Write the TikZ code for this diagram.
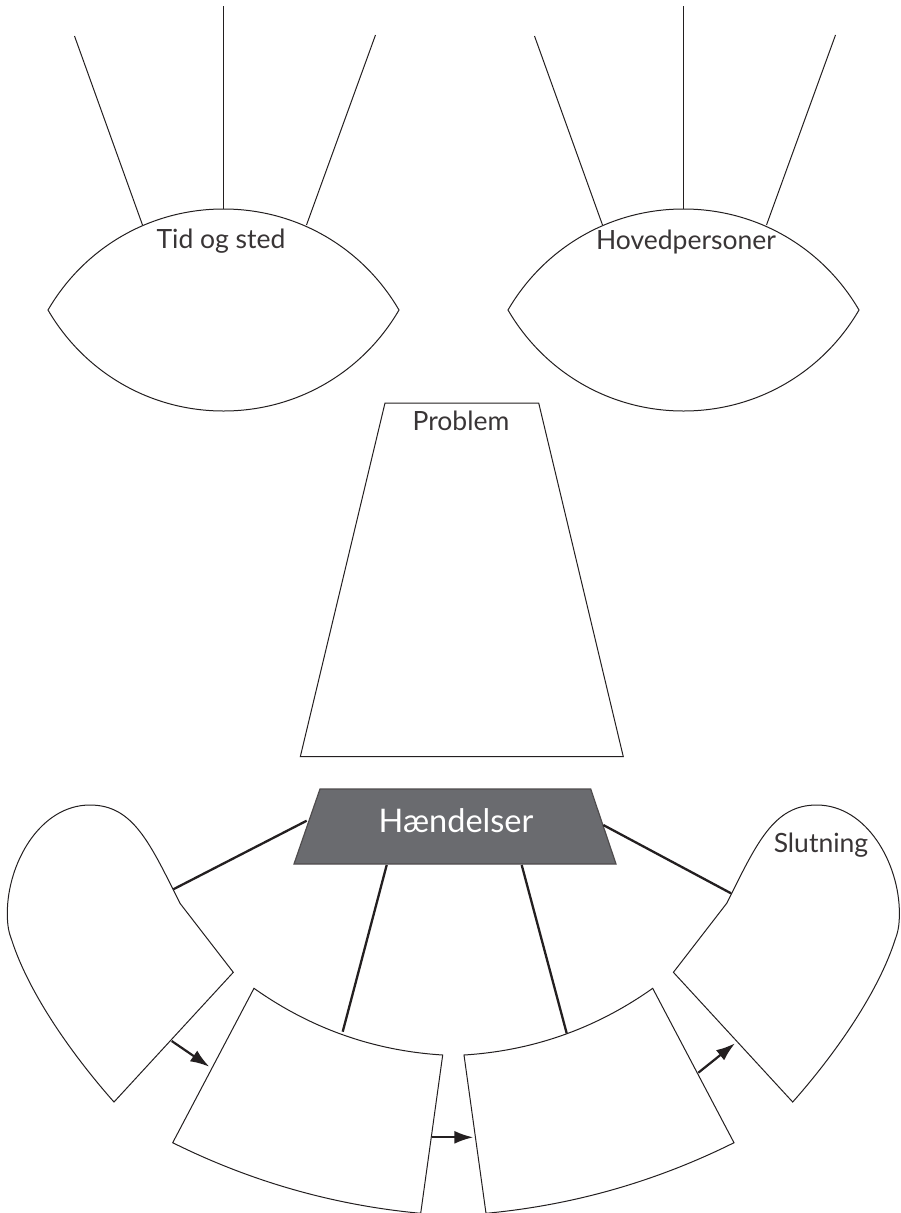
\documentclass[tikz,border=0pt]{standalone}
\usepackage{fontspec}
\setmainfont{Lato}
\usetikzlibrary{arrows.meta}
\definecolor{boxgray}{HTML}{6A6B6F}
\definecolor{ink}{HTML}{231F20}
\begin{document}
\begin{tikzpicture}[x=1pt,y=-1pt,
  outline/.style={draw=ink, line width=1pt, fill=white, line join=miter},
  thinline/.style={draw=ink, line width=1pt},
  link/.style={draw=ink, line width=2.3pt},
  flow/.style={draw=ink, line width=2.2pt, -{Latex[length=19pt,width=13pt]}},
  lbl/.style={font=\fontsize{26.5}{30}\selectfont, text=ink!90, inner sep=0pt},
  biglbl/.style={font=\fontsize{32.5}{36}\selectfont, text=white, inner sep=0pt},
]
\useasboundingbox (0,0) rectangle (901,1213);

% ---- two lenses with their three strokes ----
\foreach \n/\cx in {tid/223.5, hov/683.5}{
  \begin{scope}[shift={(\cx,310)}]
    \draw[outline] (-175.5,0) .. controls (-139.1,-62.5) and (-73.2,-101) .. (0,-101)
      .. controls (73.2,-101) and (139.1,-62.5) .. (175.5,0)
      .. controls (139.1,62.5) and (73.2,101) .. (0,101)
      .. controls (-73.2,101) and (-139.1,62.5) .. (-175.5,0) -- cycle;
    \coordinate (\n-la) at (-149,-274);
    \coordinate (\n-lb) at (-81,-85);
    \coordinate (\n-ma) at (0,-304);
    \coordinate (\n-mb) at (0,-101);
    \coordinate (\n-ra) at (152,-275);
    \coordinate (\n-rb) at (83,-85);
  \end{scope}
  \draw[thinline] (\n-la) -- (\n-lb);
  \draw[thinline] (\n-ma) -- (\n-mb);
  \draw[thinline] (\n-ra) -- (\n-rb);
}
\node[lbl] (tidtxt) at (221,241) {Tid og sted};
\node[lbl] (hovtxt) at (686,242) {Hovedpersoner};

% ---- problem ----
\draw[outline] (385,403) -- (538.7,403) -- (623.3,756.7) -- (300.3,756.7) -- cycle;
\node[lbl] (problem) at (461,421) {Problem};

% ---- events box ----
\draw[fill=boxgray, draw=ink!80, line width=1.2pt, line join=miter]
  (320,789) -- (590.7,789) -- (616,864) -- (294,864) -- cycle;
\node[biglbl] (haend) at (456,821) {Hændelser};

% ---- left mitten (start) ----
\draw[outline] (233.3,972.3) -- (180,903.3) .. controls (150,843.3) and (133.3,805) .. (90,805)
  .. controls (40,805) and (7.3,863.3) .. (7.3,913.3)
  .. controls (7.3,926) and (9,933) .. (11.7,940)
  .. controls (30,996.7) and (76.7,1060) .. (114,1102) -- cycle;

% ---- right mitten (Slutning) ----
\draw[outline] (673.4,972.3) -- (726.7,903.3) .. controls (756.7,843.3) and (773.4,805) .. (816.7,805)
  .. controls (866.7,805) and (899.4,863.3) .. (899.4,913.3)
  .. controls (899.4,926) and (897.7,933) .. (895,940)
  .. controls (876.7,996.7) and (830,1060) .. (792.7,1102) -- cycle;
\node[lbl] (slut) at (821,845) {Slutning};

% ---- two cards ----
\draw[outline] (254,988.3) .. controls (310.6,1028.4) and (373.5,1050.7) .. (442.7,1055)
  -- (420.7,1213.3) .. controls (333.6,1205.2) and (251,1181.6) .. (172.7,1142.7) -- cycle;
\draw[outline] (652.7,988.3) .. controls (596.1,1028.4) and (533.2,1050.7) .. (464,1055)
  -- (486,1213.3) .. controls (573.1,1205.2) and (655.7,1181.6) .. (734,1142.7) -- cycle;

% ---- connectors from Hændelser ----
\coordinate (h1) at (306.7,820.7);  \coordinate (s1) at (173.3,889.3);
\coordinate (h2) at (386.7,865);    \coordinate (c1) at (342.7,1031.7);
\coordinate (h3) at (521.7,865);    \coordinate (c2) at (566.7,1033.3);
\coordinate (h4) at (603.3,825);    \coordinate (s2) at (731,893.3);
\draw[link] (h1) -- (s1);
\draw[link] (h2) -- (c1);
\draw[link] (h3) -- (c2);
\draw[link] (h4) -- (s2);

% ---- flow arrows ----
\coordinate (a1s) at (171.7,1041);   \coordinate (a1e) at (209.3,1066.7);
\coordinate (a2s) at (431.7,1137.3); \coordinate (a2e) at (473.3,1137.3);
\coordinate (a3s) at (698.3,1072.7); \coordinate (a3e) at (735,1043.3);
\draw[flow] (a1s) -- (a1e);
\draw[flow] (a2s) -- (a2e);
\draw[flow] (a3s) -- (a3e);
\end{tikzpicture}
\end{document}
